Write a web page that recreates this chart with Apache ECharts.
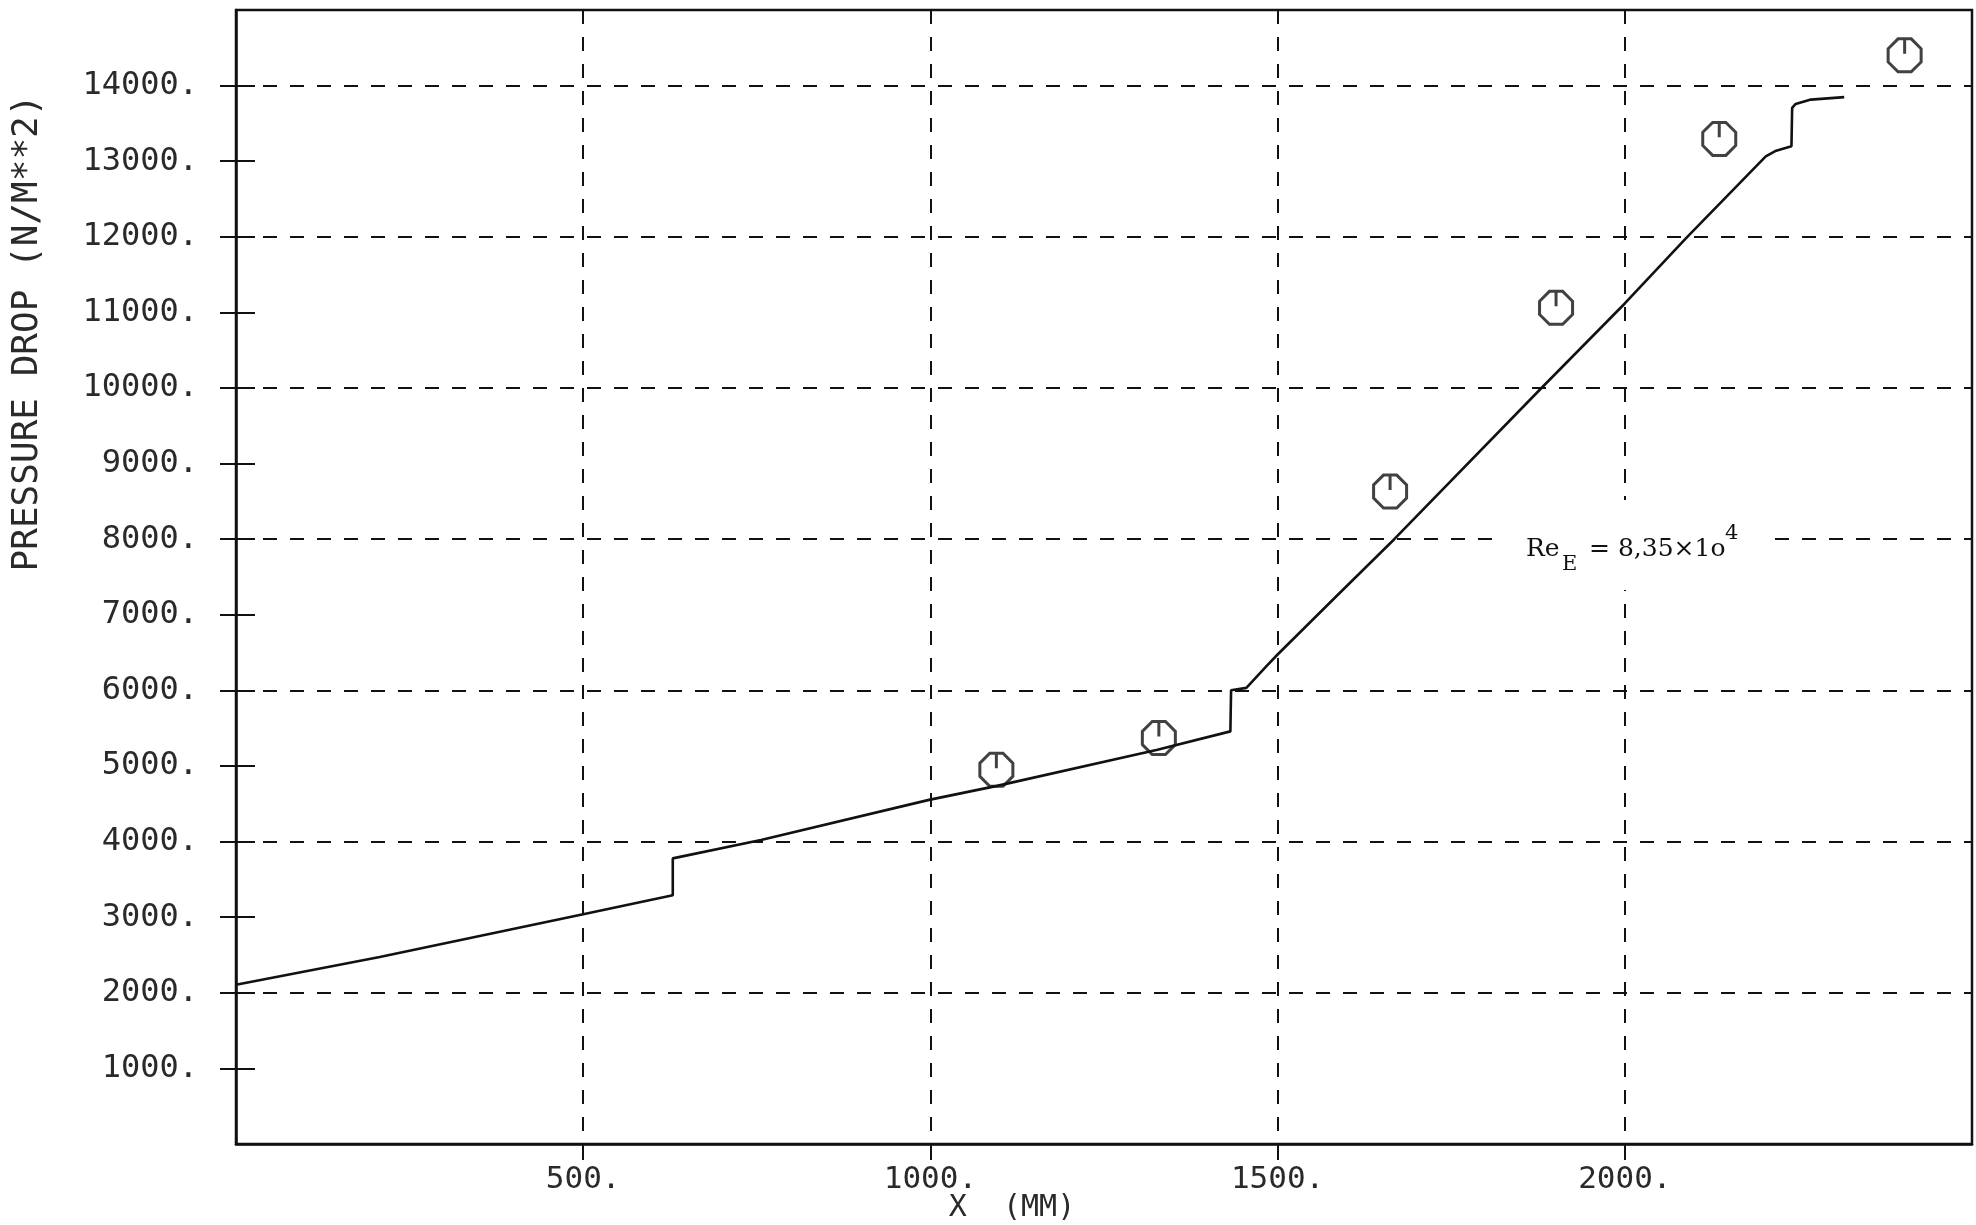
<!DOCTYPE html>
<html>
<head>
<meta charset="utf-8">
<script src="https://cdn.jsdelivr.net/npm/echarts@6/dist/echarts.min.js"></script>
<style>
	html, body { margin: 0; padding: 0; background: #fff; }
	#chart { width: 1976px; height: 1225px; }
</style>
</head>
<body>
<div id="chart"></div>
<script>
// 계산된 압력강하 곡선 (x: mm, y: N/m²)
const lineX = [0, 207, 500, 629, 629, 756, 998, 1096, 1327, 1432, 1433, 1455, 1484, 1500, 1585, 1668, 1880, 2000, 2090, 2203, 2218, 2240, 2241, 2246, 2268, 2316];
const lineY = [2107, 2473, 3039, 3291, 3778, 4021, 4552, 4737, 5215, 5458, 6002, 6033, 6320, 6475, 7249, 8000, 10000, 11118, 12000, 13064, 13139, 13197, 13705, 13758, 13815, 13847];

// 측정점
const markX = [1095, 1329, 1662, 1901, 2136, 2403];
const markY = [4950, 5370, 8630, 11060, 13295, 14400];

// 눈금 라벨
const xTicks = [500, 1000, 1500, 2000];
const yTicks = [1000, 2000, 3000, 4000, 5000, 6000, 7000, 8000, 9000, 10000, 11000, 12000, 13000, 14000];
const yGrid = [2000, 4000, 6000, 8000, 10000, 12000, 14000];

const INK = '#111';
const MONO = '"DejaVu Sans Mono", monospace';
const SERIF = '"DejaVu Serif", serif';

const chart = echarts.init(document.getElementById('chart'), null, { renderer: 'canvas' });

const lineData = lineX.map((x, i) => [x, lineY[i]]);
const markData = markX.map((x, i) => [x, markY[i]]);

// 팔각형 + 세로선 기호
const octSymbol = 'path://M30,0 L70,0 L100,30 L100,70 L70,100 L30,100 L0,70 L0,30 Z M50,0 L50,45';

const dash = [14, 13];

const option = {
	backgroundColor: '#fff',
	animation: false,
	grid: {
		left: 236,
		right: 4,
		top: 10,
		bottom: 81,
		show: true,
		borderColor: INK,
		borderWidth: 2.5
	},
	xAxis: {
		type: 'value',
		min: 0,
		max: 2500,
		interval: 500,
		axisLine: { show: true, lineStyle: { color: INK, width: 2.5 } },
		axisTick: { show: true, inside: false, length: 16, customValues: xTicks, lineStyle: { color: INK, width: 2 } },
		axisLabel: {
			margin: 20,
			fontFamily: MONO,
			fontSize: 31,
			color: '#2a2a2a',
			customValues: xTicks,
			formatter: v => v + '.'
		},
		splitLine: { show: true, lineStyle: { color: INK, width: 2, type: dash } }
	},
	yAxis: [
		{
			// 라벨 + 바깥쪽 눈금
			type: 'value',
			position: 'left',
			min: 0,
			max: 15000,
			interval: 1000,
			axisLine: { show: true, lineStyle: { color: INK, width: 2.5 } },
			axisTick: { show: true, inside: false, length: 16, customValues: yTicks, lineStyle: { color: INK, width: 2 } },
			axisLabel: {
				margin: 38,
				fontFamily: MONO,
				fontSize: 32,
				color: '#2a2a2a',
				customValues: yTicks,
				formatter: v => v + '.'
			},
			splitLine: { show: false }
		},
		{
			// 안쪽 눈금
			type: 'value',
			position: 'left',
			min: 0,
			max: 15000,
			interval: 1000,
			axisLine: { show: false },
			axisTick: { show: true, inside: true, length: 19, customValues: yTicks, lineStyle: { color: INK, width: 2 } },
			axisLabel: { show: false },
			splitLine: { show: false }
		},
		{
			// 2000 간격 점선 격자
			type: 'value',
			position: 'left',
			min: 0,
			max: 15000,
			interval: 2000,
			axisLine: { show: false },
			axisTick: { show: false, customValues: yGrid },
			axisLabel: { show: false },
			splitLine: { show: true, lineStyle: { color: INK, width: 2, type: dash } }
		}
	],
	series: [
		{
			name: 'calc',
			type: 'line',
			data: lineData,
			showSymbol: false,
			symbol: 'none',
			smooth: false,
			lineStyle: { color: INK, width: 2.6 },
			z: 3
		},
		{
			name: 'measured',
			type: 'scatter',
			data: markData,
			symbol: octSymbol,
			symbolSize: 33,
			itemStyle: {
				color: 'rgba(0,0,0,0)',
				borderColor: INK,
				borderWidth: 3
			},
			z: 4
		}
	],
	graphic: [
		{
			type: 'text',
			x: 28,
			y: 333,
			rotation: Math.PI / 2,
			style: {
				text: 'PRESSURE DROP (N/M**2)',
				fontFamily: MONO,
				fontSize: 36,
				fill: '#2a2a2a',
				align: 'center',
				verticalAlign: 'middle'
			}
		},
		{
			type: 'text',
			x: 1012,
			y: 1208,
			style: {
				text: 'X  (MM)',
				fontFamily: MONO,
				fontSize: 30,
				fill: '#2a2a2a',
				align: 'center',
				verticalAlign: 'middle'
			}
		},
		// Re 주석 (격자선 가림)
		{
			type: 'rect',
			z: 50,
			shape: { x: 1505, y: 500, width: 270, height: 90 },
			style: { fill: '#fff' }
		},
		{
			type: 'text',
			z: 51,
			x: 1526,
			y: 549,
			style: { text: 'Re', fontFamily: SERIF, fontSize: 25, fill: INK, verticalAlign: 'middle' }
		},
		{
			type: 'text',
			z: 51,
			x: 1562,
			y: 565,
			style: { text: 'E', fontFamily: SERIF, fontSize: 21, fill: INK, verticalAlign: 'middle' }
		},
		{
			type: 'text',
			z: 51,
			x: 1589,
			y: 549,
			style: { text: '= 8,35×1o', fontFamily: SERIF, fontSize: 25, fill: INK, verticalAlign: 'middle' }
		},
		{
			type: 'text',
			z: 51,
			x: 1725,
			y: 534,
			style: { text: '4', fontFamily: SERIF, fontSize: 21, fill: INK, verticalAlign: 'middle' }
		}
	]
};

chart.setOption(option);
</script>
</body>
</html>
